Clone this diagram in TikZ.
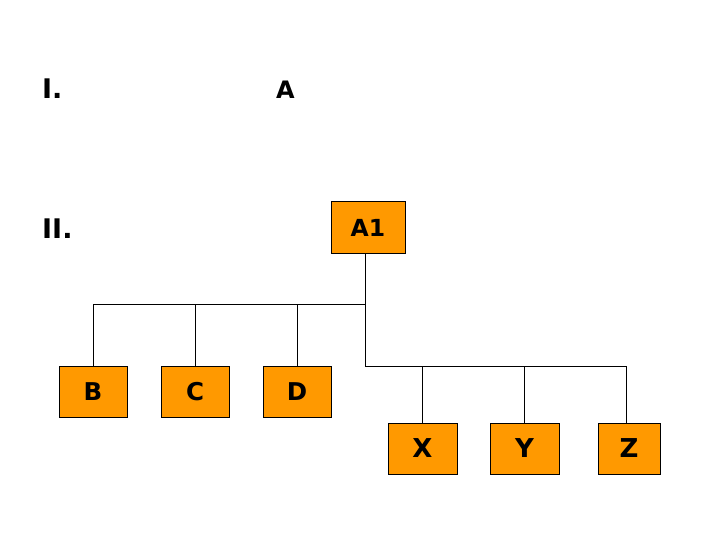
\documentclass[tikz,border=0pt]{standalone}
\usepackage{fontspec}
\setmainfont{DejaVu Sans}
\definecolor{boxorange}{RGB}{255,153,0}
\begin{document}
\begin{tikzpicture}[x=1pt,y=-1pt,
  orgbox/.style={draw=black,line width=1pt,fill=boxorange,minimum width=68pt,minimum height=51pt,inner sep=0pt,font=\bfseries\fontsize{24.5}{24.5}\selectfont},
  lowbox/.style={orgbox,font=\bfseries\fontsize{26}{26}\selectfont},
  lbl/.style={inner sep=0pt,font=\bfseries\fontsize{27}{27}\selectfont},
  conn/.style={line width=1pt}]
\useasboundingbox (0,0) rectangle (720,540);
\node[lbl,anchor=base west] (l1) at (42,99) {I.};
\node[lbl,anchor=base,font=\bfseries\fontsize{24}{24}\selectfont] (a) at (285.5,99) {A};
\node[lbl,anchor=base west] (l2) at (42,238) {II.};
\node[orgbox,minimum width=74pt,font=\bfseries\fontsize{23.5}{23.5}\selectfont] (A1) at (368,227.5) {A1};
\node[orgbox] (B) at (93,391.5) {B};
\node[orgbox] (C) at (195,391.5) {C};
\node[orgbox] (D) at (297,391.5) {D};
\node[lowbox,minimum width=69pt] (X) at (422.5,448.5) {X};
\node[lowbox,minimum width=69pt] (Y) at (524.5,448.5) {Y};
\node[lowbox,minimum width=62pt] (Z) at (629,448.5) {Z};
\coordinate (j1) at (365,304);
\coordinate (j2) at (365,366);
\coordinate (zt) at ([xshift=-3pt]Z.north);
\draw[conn] ([xshift=-3pt]A1.south) -- (j2) -- (j2 -| zt) -- (zt);
\draw[conn] (B.north) |- (j1);
\draw[conn] (C.north) -- (C.north |- j1);
\draw[conn] (D.north) -- (D.north |- j1);
\draw[conn] (X.north) -- (X.north |- j2);
\draw[conn] (Y.north) -- (Y.north |- j2);
\end{tikzpicture}
\end{document}
